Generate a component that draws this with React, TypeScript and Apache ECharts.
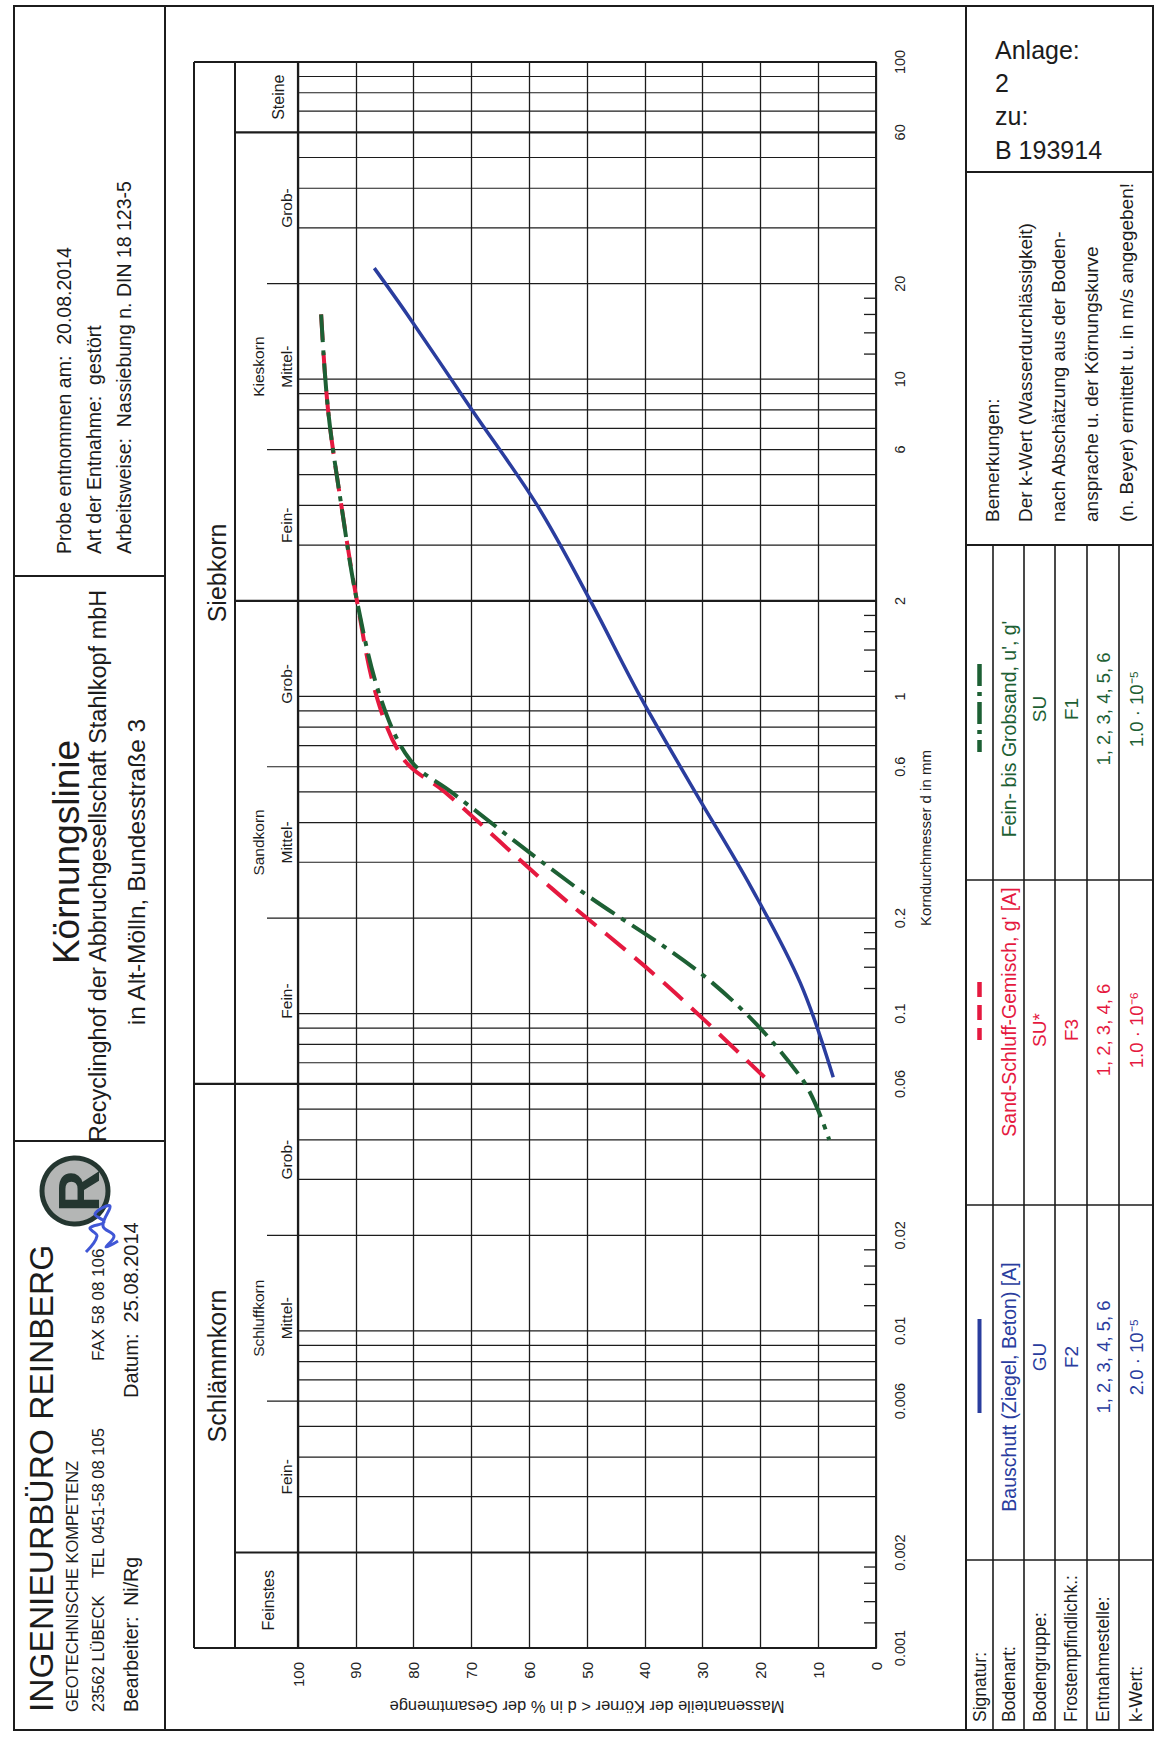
import React, { useEffect, useRef } from "react";
import * as echarts from "echarts";

const FONT = '"Liberation Sans", Arial, Helvetica, sans-serif';
const INK = "#1c1c1c";
const BLUE = "#2a3d9e";
const RED = "#e5193f";
const GREEN = "#1d6034";

// ---------------- data ----------------
const blueSizes = [22.4, 16, 8, 4, 2, 1, 0.5, 0.25, 0.125, 0.063];
const bluePassing = [86.8, 81.1, 69.9, 58.6, 49.4, 40.8, 31.3, 21.6, 13.1, 7.4];
const redSizes = [16, 8, 4, 2, 1, 0.63, 0.5, 0.25, 0.125, 0.063];
const redPassing = [96.0, 94.8, 92.5, 89.8, 86.4, 81.6, 74.6, 56.3, 36.7, 19.3];
const greenSizes = [16, 8, 4, 2, 1, 0.63, 0.5, 0.25, 0.125, 0.063, 0.04];
const greenPassing = [96.0, 94.8, 92.5, 89.8, 85.8, 80.6, 73.5, 51.9, 28.3, 13.0, 8.1];

const diameterLabels = [0.001, 0.002, 0.006, 0.01, 0.02, 0.06, 0.1, 0.2, 0.6, 1, 2, 6, 10, 20, 60, 100];
const gridLinesMm = [
  0.001, 0.002, 0.003, 0.004, 0.005, 0.006, 0.007, 0.008, 0.009,
  0.01, 0.02, 0.03, 0.04, 0.05, 0.06, 0.07, 0.08, 0.09,
  0.1, 0.2, 0.3, 0.4, 0.5, 0.6, 0.7, 0.8, 0.9,
  1, 2, 3, 4, 5, 6, 7, 8, 9,
  10, 20, 30, 40, 50, 60, 70, 80, 90, 100,
];
const shortTicksMm = [0.0012, 0.0014, 0.0016, 0.0018, 0.012, 0.014, 0.016, 0.018, 0.12, 0.14, 0.16, 0.18, 1.2, 1.4, 1.6, 1.8, 12, 14, 16, 18];
const bandEdgesMm = [0.001, 100];
const mainBoundariesMm = [0.06];
const groupBoundariesMm = [0.002, 2, 60];
const subBoundariesMm = [0.006, 0.02, 0.2, 0.6, 6, 20];

const mainBandFrom = [0.001, 0.06];
const mainBandTo = [0.06, 100];
const mainBandNames = ["Schlämmkorn", "Siebkorn"];
const groupBandFrom = [0.002, 0.06, 2];
const groupBandTo = [0.06, 2, 60];
const groupBandNames = ["Schluffkorn", "Sandkorn", "Kieskorn"];
const wholeBandFrom = [0.001, 60];
const wholeBandTo = [0.002, 100];
const wholeBandNames = ["Feinstes", "Steine"];
const subBandFrom = [0.002, 0.006, 0.02, 0.06, 0.2, 0.6, 2, 6, 20];
const subBandTo = [0.006, 0.02, 0.06, 0.2, 0.6, 2, 6, 20, 60];
const subBandNames = ["Fein-", "Mittel-", "Grob-", "Fein-", "Mittel-", "Grob-", "Fein-", "Mittel-", "Grob-"];

const tableRowLabels = ["Signatur:", "Bodenart:", "Bodengruppe:", "Frostempfindlichk.:", "Entnahmestelle:", "k-Wert:"];
const sampleNames = ["Bauschutt (Ziegel, Beton) [A]", "Sand-Schluff-Gemisch, g' [A]", "Fein- bis Grobsand, u', g'"];
const soilGroups = ["GU", "SU*", "SU"];
const frostClasses = ["F2", "F3", "F1"];
const samplingPoints = ["1, 2, 3, 4, 5, 6", "1, 2, 3, 4, 6", "1, 2, 3, 4, 5, 6"];
const kValues = ["2.0 · 10⁻⁵", "1.0 · 10⁻⁶", "1.0 · 10⁻⁵"];
const sampleColors = [BLUE, RED, GREEN];

const remarks = [
  "Bemerkungen:",
  "Der k-Wert (Wasserdurchlässigkeit)",
  "nach Abschätzung aus der Boden-",
  "ansprache u. der Körnungskurve",
  "(n. Beyer) ermittelt u. in m/s angegeben!",
];

// ---------------- helpers ----------------
const R90 = Math.PI / 2;

function vtext(text: string, x: number, y: number, size: number, align: string = "center", fill: string = INK, weight: string = "normal") {
  return {
    type: "text",
    x,
    y,
    rotation: R90,
    silent: true,
    style: { text, fontSize: size, fontFamily: FONT, fill, align, verticalAlign: "middle", fontWeight: weight },
  };
}
function htext(text: string, x: number, y: number, size: number, align: string = "left", fill: string = INK) {
  return {
    type: "text",
    x,
    y,
    silent: true,
    style: { text, fontSize: size, fontFamily: FONT, fill, align, verticalAlign: "middle" },
  };
}
function seg(x1: number, y1: number, x2: number, y2: number, w: number = 1.6, stroke: string = INK, dash?: number[]) {
  const style: any = { stroke, lineWidth: w };
  if (dash) style.lineDash = dash;
  return { type: "line", silent: true, shape: { x1, y1, x2, y2 }, style };
}

function lineKind(d: number) {
  if (bandEdgesMm.includes(d)) return 4;
  if (mainBoundariesMm.includes(d)) return 3;
  if (groupBoundariesMm.includes(d)) return 2;
  if (subBoundariesMm.includes(d)) return 1;
  return 0;
}

// geometry of the page (portrait)
const FRAME_L = 14, FRAME_T = 6, FRAME_R = 1153, FRAME_B = 1730;
const HEAD_R = 165;
const PANEL_L = 966;
const stripLines = [993, 1024, 1055, 1087, 1119];
const stripCenters = [979.5, 1008.5, 1039.5, 1071, 1103, 1136];
const colLines = [880, 1205, 1560];
const nameCenters = [1387, 1012, 729];
const valueCenters = [1357, 1030, 709];
const legendRanges = [[1319, 1413], [982, 1040], [664, 752]];

function buildGraphic() {
  const els: any[] = [];
  // outer frame
  els.push({ type: "rect", silent: true, shape: { x: FRAME_L, y: FRAME_T, width: FRAME_R - FRAME_L, height: FRAME_B - FRAME_T }, style: { fill: "none", stroke: INK, lineWidth: 2 } });
  // header column
  els.push(seg(HEAD_R, FRAME_T, HEAD_R, FRAME_B, 2));
  els.push(seg(FRAME_L, 576, HEAD_R, 576, 2));
  els.push(seg(FRAME_L, 1141, HEAD_R, 1141, 2));
  // right panel
  els.push(seg(PANEL_L, FRAME_T, PANEL_L, FRAME_B, 2));
  els.push(seg(PANEL_L, 172, FRAME_R, 172, 2));
  els.push(seg(PANEL_L, 545, FRAME_R, 545, 2));
  stripLines.forEach((x) => els.push(seg(x, 545, x, FRAME_B, 1.6)));
  colLines.forEach((y) => els.push(seg(PANEL_L, y, FRAME_R, y, 1.6)));

  // header texts
  els.push(vtext("INGENIEURBÜRO REINBERG", 41, 1712, 33.5, "left"));
  els.push(vtext("GEOTECHNISCHE KOMPETENZ", 72, 1712, 16.5, "left"));
  els.push(vtext("23562 LÜBECK", 98, 1712, 16.5, "left"));
  els.push(vtext("TEL 0451-58 08 105", 98, 1578, 16.5, "left"));
  els.push(vtext("FAX 58 08 106", 98, 1361, 17, "left"));
  els.push(vtext("Bearbeiter:  Ni/Rg", 131, 1712, 19.5, "left"));
  els.push(vtext("Datum:  25.08.2014", 131, 1398, 20, "left"));
  // logo
  els.push({ type: "circle", silent: true, shape: { cx: 75, cy: 1191, r: 33 }, style: { fill: "#b4b6b5", stroke: "#243630", lineWidth: 5 } });
  els.push(vtext("R", 78, 1191, 58, "center", "#243630", "bold"));
  // signature scribble
  els.push({
    type: "polyline",
    silent: true,
    shape: { points: [[86, 1252], [97, 1236], [90, 1228], [104, 1222], [95, 1214], [110, 1206], [103, 1226], [114, 1236], [106, 1247], [118, 1241]], smooth: 0.4 },
    style: { stroke: "#4057d6", lineWidth: 3, fill: "none" },
  });

  // title block
  els.push(vtext("Körnungslinie", 66, 852, 37));
  els.push(vtext("Recyclinghof der Abbruchgesellschaft Stahlkopf mbH", 98, 866, 23.5));
  els.push(vtext("in Alt-Mölln, Bundesstraße 3", 136, 872, 24.5));

  // sample info block
  els.push(vtext("Probe entnommen am:  20.08.2014", 64, 554, 19.5, "left"));
  els.push(vtext("Art der Entnahme:  gestört", 94, 554, 19.5, "left"));
  els.push(vtext("Arbeitsweise:  Nassiebung n. DIN 18 123-5", 124, 554, 19.5, "left"));

  // Anlage block
  els.push(htext("Anlage:", 995, 50, 25));
  els.push(htext("2", 995, 83, 25));
  els.push(htext("zu:", 995, 116, 25));
  els.push(htext("B 193914", 995, 150, 25));

  // remarks
  const remarkX = [992, 1025, 1058, 1091, 1126];
  remarks.forEach((t, i) => els.push(vtext(t, remarkX[i], 522, 19, "left")));

  // table row labels
  tableRowLabels.forEach((t, i) => els.push(vtext(t, stripCenters[i], 1722, 17.5, "left")));
  // sample columns
  for (let c = 0; c < 3; c++) {
    const col = sampleColors[c];
    els.push(vtext(sampleNames[c], stripCenters[1], nameCenters[c], 19.5, "center", col));
    els.push(vtext(soilGroups[c], stripCenters[2], valueCenters[c], 19, "center", col));
    els.push(vtext(frostClasses[c], stripCenters[3], valueCenters[c], 19, "center", col));
    els.push(vtext(samplingPoints[c], stripCenters[4], valueCenters[c], 18.5, "center", col));
    els.push(vtext(kValues[c], stripCenters[5], valueCenters[c], 18.5, "center", col));
  }
  // signature samples
  els.push(seg(stripCenters[0], legendRanges[0][0], stripCenters[0], legendRanges[0][1], 4, BLUE));
  els.push(seg(stripCenters[0], legendRanges[1][0], stripCenters[0], legendRanges[1][1], 4.5, RED, [15, 8]));
  els.push(seg(stripCenters[0], legendRanges[2][0], stripCenters[0], legendRanges[2][1], 4.5, GREEN, [22, 6, 4, 6]));
  return els;
}

function buildOption(): any {
  const hLineData = gridLinesMm.map((d) => [50, d, lineKind(d)]);
  const bandLabelData: any[] = [];
  const bandLabelText: string[] = [];
  const bandLabelOffset: number[] = [];
  const bandLabelSize: number[] = [];
  mainBandNames.forEach((n, i) => { bandLabelData.push([50, mainBandFrom[i], mainBandTo[i]]); bandLabelText.push(n); bandLabelOffset.push(-81); bandLabelSize.push(25); });
  groupBandNames.forEach((n, i) => { bandLabelData.push([50, groupBandFrom[i], groupBandTo[i]]); bandLabelText.push(n); bandLabelOffset.push(-40); bandLabelSize.push(15.5); });
  wholeBandNames.forEach((n, i) => { bandLabelData.push([50, wholeBandFrom[i], wholeBandTo[i]]); bandLabelText.push(n); bandLabelOffset.push(i === 0 ? -30 : -20); bandLabelSize.push(16); });
  subBandNames.forEach((n, i) => { bandLabelData.push([50, subBandFrom[i], subBandTo[i]]); bandLabelText.push(n); bandLabelOffset.push(-12); bandLabelSize.push(15.5); });

  return {
    animation: false,
    backgroundColor: "#ffffff",
    textStyle: { fontFamily: FONT },
    grid: { left: 298, right: 283, top: 62, bottom: 90, outerBoundsMode: "none" },
    xAxis: {
      type: "value",
      min: 0,
      max: 100,
      interval: 10,
      inverse: true,
      position: "bottom",
      axisLine: { show: true, onZero: false, lineStyle: { color: INK, width: 2 } },
      axisTick: { show: false },
      axisLabel: { rotate: 90, margin: 14, fontSize: 15, color: "#222", fontFamily: FONT },
      splitLine: { show: true, showMinLine: true, showMaxLine: true, lineStyle: { color: INK, width: 1.3 } },
      name: "Massenanteile der Körner < d in % der Gesamtmenge",
      nameLocation: "middle",
      nameRotate: 180,
      nameGap: 50,
      nameTextStyle: { fontSize: 16.5, color: "#222", fontFamily: FONT },
    },
    yAxis: {
      type: "log",
      logBase: 10,
      min: 0.001,
      max: 100,
      position: "right",
      axisLine: { show: true, onZero: false, lineStyle: { color: INK, width: 1.6 } },
      axisTick: { show: false },
      axisLabel: { show: false },
      splitLine: { show: false },
      name: "Korndurchmesser d in mm",
      nameLocation: "middle",
      nameRotate: 90,
      nameGap: 42,
      nameTextStyle: { fontSize: 15, color: "#222", fontFamily: FONT, padding: [0, 0, 0, 34] },
    },
    series: [
      {
        type: "custom",
        name: "grid lines",
        clip: false,
        silent: true,
        z: 1,
        data: hLineData,
        renderItem: (params: any, api: any) => {
          const d = api.value(1);
          const kind = api.value(2);
          const a = api.coord([100, d]);
          const b = api.coord([0, d]);
          const ext = kind >= 3 ? 104 : kind === 2 ? 63 : kind === 1 ? 31 : 0;
          const w = kind >= 2 ? 2.2 : 1.2;
          return { type: "line", shape: { x1: a[0] - ext, y1: a[1], x2: b[0], y2: b[1] }, style: { stroke: INK, lineWidth: w } };
        },
      },
      {
        type: "custom",
        name: "band frame",
        clip: false,
        silent: true,
        z: 1,
        data: [[50, 0.001, 100]],
        renderItem: (params: any, api: any) => {
          const bot = api.coord([100, api.value(1)]);
          const top = api.coord([100, api.value(2)]);
          const right = api.coord([0, api.value(1)]);
          const ln = (x: number, w: number) => ({ type: "line", shape: { x1: x, y1: top[1], x2: x, y2: bot[1] }, style: { stroke: INK, lineWidth: w } });
          return { type: "group", children: [ln(bot[0] - 104, 2), ln(bot[0] - 63, 2), ln(bot[0], 2.2), ln(right[0], 1.6)] };
        },
      },
      {
        type: "custom",
        name: "short ticks",
        clip: false,
        silent: true,
        z: 1,
        data: shortTicksMm.map((d) => [0, d]),
        renderItem: (params: any, api: any) => {
          const p = api.coord([0, api.value(1)]);
          return { type: "line", shape: { x1: p[0] - 12, y1: p[1], x2: p[0], y2: p[1] }, style: { stroke: INK, lineWidth: 1.3 } };
        },
      },
      {
        type: "custom",
        name: "band labels",
        clip: false,
        silent: true,
        z: 2,
        data: bandLabelData,
        renderItem: (params: any, api: any) => {
          const i = params.dataIndex;
          const a = api.coord([100, api.value(1)]);
          const b = api.coord([100, api.value(2)]);
          return {
            type: "text",
            x: a[0] + bandLabelOffset[i],
            y: (a[1] + b[1]) / 2,
            rotation: R90,
            style: { text: bandLabelText[i], fontSize: bandLabelSize[i], fontFamily: FONT, fill: INK, align: "center", verticalAlign: "middle" },
          };
        },
      },
      {
        type: "custom",
        name: "diameter labels",
        clip: false,
        silent: true,
        z: 2,
        data: diameterLabels.map((d) => [0, d]),
        renderItem: (params: any, api: any) => {
          const i = params.dataIndex;
          const p = api.coord([0, api.value(1)]);
          return {
            type: "text",
            x: p[0] + 24,
            y: p[1],
            rotation: R90,
            style: { text: String(diameterLabels[i]), fontSize: 14.5, fontFamily: FONT, fill: "#222", align: "center", verticalAlign: "middle" },
          };
        },
      },
      {
        type: "line",
        name: "Bauschutt (Ziegel, Beton) [A]",
        data: bluePassing.map((p, i) => [p, blueSizes[i]]),
        smooth: 0.35,
        showSymbol: false,
        symbol: "none",
        z: 5,
        lineStyle: { color: BLUE, width: 3.5 },
      },
      {
        type: "line",
        name: "Sand-Schluff-Gemisch, g' [A]",
        data: redPassing.map((p, i) => [p, redSizes[i]]),
        smooth: 0.35,
        showSymbol: false,
        symbol: "none",
        z: 5,
        lineStyle: { color: RED, width: 4, type: [26, 12] },
      },
      {
        type: "line",
        name: "Fein- bis Grobsand, u', g'",
        data: greenPassing.map((p, i) => [p, greenSizes[i]]),
        smooth: 0.35,
        showSymbol: false,
        symbol: "none",
        z: 6,
        lineStyle: { color: GREEN, width: 4, type: [28, 8, 5, 8] },
      },
    ],
    graphic: { elements: buildGraphic() },
  };
}

export default function App() {
  const ref = useRef<HTMLDivElement>(null);
  useEffect(() => {
    const el = ref.current;
    if (!el) return;
    const chart = echarts.init(el, null, { renderer: "svg" });
    chart.setOption(buildOption());
    return () => chart.dispose();
  }, []);
  return (
    <div
      ref={ref}
      style={{ position: "absolute", left: 0, top: 0, width: 1159, height: 1738, background: "#ffffff" }}
    />
  );
}
